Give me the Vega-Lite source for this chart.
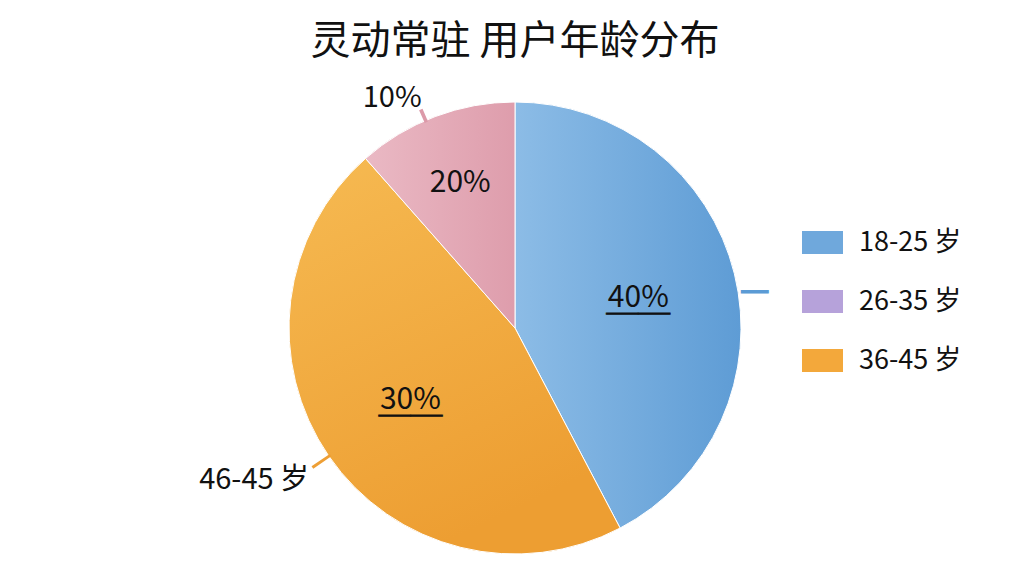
{
  "$schema": "https://vega.github.io/schema/vega-lite/v6.json",
  "description": "灵动常驻 用户年龄分布 pie with callouts",
  "autosize": {"type": "none"},
  "width": 1018,
  "height": 496,
  "padding": {"left": 6, "top": 80, "right": 0, "bottom": 0},
  "background": "white",
  "title": {
    "text": "灵动常驻 用户年龄分布",
    "font": "Noto Sans CJK SC",
    "fontSize": 40,
    "fontWeight": "normal",
    "color": "#111111",
    "anchor": "middle",
    "frame": "group",
    "offset": 18
  },
  "config": {
    "view": {"stroke": null},
    "text": {"font": "Noto Sans CJK SC", "color": "#111111"}
  },
  "datasets": {
    "slices": [
      {"idx": 1, "group": "18-25 岁", "share": 42.3, "label": "40%"},
      {"idx": 2, "group": "\u200436-45 岁", "share": 46.2, "label": "30%"},
      {"idx": 3, "group": "46岁以上", "share": 11.5, "label": "20%"}
    ],
    "callouts": [
      {"group": "18-25 岁", "tick": 22.8, "textAt": 22.8, "text": ""},
      {"group": "36-45 岁", "tick": 65.3, "textAt": 66.6, "text": "46-45 岁"},
      {"group": "46岁以上", "tick": 93.4, "textAt": 92.2, "text": "10%"}
    ]
  },
  "layer": [
    {
      "data": {"name": "slices"},
      "mark": {"type": "arc", "outerRadius": 226, "stroke": "#ffffff", "strokeWidth": 1},
      "encoding": {
        "theta": {"field": "share", "type": "quantitative", "stack": true},
        "order": {"field": "idx", "type": "ordinal"},
        "color": {
          "field": "group",
          "type": "nominal",
          "scale": {
            "domain": ["18-25 岁", "\u200426-35 岁", "\u200436-45 岁", "46岁以上"],
            "range": ["#6fa8dc", "#b6a2da", "#f3a83b", "#e4abb7"]
          },
          "legend": {
            "values": ["18-25 岁", "\u200426-35 岁", "\u200436-45 岁"],
            "title": null,
            "orient": "none",
            "legendX": 796,
            "legendY": 142,
            "direction": "vertical",
            "symbolType": "M-1,-0.56H1V0.56H-1Z",
            "symbolSize": 1681,
            "symbolStrokeWidth": 0,
            "symbolOpacity": 1,
            "labelFont": "Noto Sans CJK SC",
            "labelFontSize": 27,
            "labelColor": "#111111",
            "labelOffset": 16,
            "rowPadding": 25
          }
        }
      }
    },
    {
      "data": {"name": "slices"},
      "mark": {"type": "arc", "outerRadius": 226, "stroke": "#ffffff", "strokeWidth": 1},
      "encoding": {
        "theta": {"field": "share", "type": "quantitative", "stack": true},
        "order": {"field": "idx", "type": "ordinal"},
        "fill": {
          "condition": [
            {
              "test": "datum.idx == 1",
              "value": {"gradient": "linear", "x1": 0, "y1": 0, "x2": 1, "y2": 0,
                "stops": [{"offset": 0, "color": "#8cbce6"}, {"offset": 1, "color": "#5e9cd5"}]}
            },
            {
              "test": "datum.idx == 2",
              "value": {"gradient": "linear", "x1": 0, "y1": 0, "x2": 0.4, "y2": 1,
                "stops": [{"offset": 0, "color": "#f6ba52"}, {"offset": 1, "color": "#ed9e32"}]}
            }
          ],
          "value": {"gradient": "linear", "x1": 0, "y1": 0, "x2": 1, "y2": 0,
            "stops": [{"offset": 0, "color": "#eab9c4"}, {"offset": 1, "color": "#de9dac"}]}
        }
      }
    },
    {
      "data": {"name": "slices"},
      "mark": {"type": "text", "radius": 127, "fontSize": 30},
      "encoding": {
        "theta": {"field": "share", "type": "quantitative", "stack": true},
        "order": {"field": "idx", "type": "ordinal"},
        "text": {"condition": {"test": "datum.idx == 3", "value": ""}, "field": "label"}
      }
    },
    {
      "data": {"name": "slices"},
      "mark": {"type": "text", "radius": 127, "fontSize": 32, "dy": 18, "stroke": "#111111", "strokeWidth": 0.8},
      "encoding": {
        "theta": {"field": "share", "type": "quantitative", "stack": true},
        "order": {"field": "idx", "type": "ordinal"},
        "text": {"condition": {"test": "datum.idx == 3", "value": ""}, "value": "──"}
      }
    },
    {
      "data": {"name": "slices"},
      "mark": {"type": "text", "radius": 155, "fontSize": 30},
      "encoding": {
        "theta": {"field": "share", "type": "quantitative", "stack": true},
        "order": {"field": "idx", "type": "ordinal"},
        "text": {"condition": {"test": "datum.idx != 3", "value": ""}, "field": "label"}
      }
    },
    {
      "data": {"name": "callouts"},
      "transform": [{"filter": "datum.group == '18-25 岁'"}],
      "mark": {"type": "text", "radius": 242, "fontSize": 28, "color": "#5b9bd5"},
      "encoding": {
        "theta": {"field": "tick", "type": "quantitative"},
        "text": {"value": "━"}
      }
    },
    {
      "data": {"name": "callouts"},
      "transform": [
        {"filter": "datum.group == '36-45 岁'"},
        {"calculate": "datum.tick + 0.2", "as": "tickEnd"}
      ],
      "mark": {"type": "arc", "innerRadius": 224, "outerRadius": 246},
      "encoding": {
        "theta": {"field": "tick", "type": "quantitative"},
        "theta2": {"field": "tickEnd"},
        "fill": {"value": "#ee9f35"}
      }
    },
    {
      "data": {"name": "callouts"},
      "transform": [
        {"filter": "datum.group == '46岁以上'"},
        {"calculate": "datum.tick + 0.25", "as": "tickEnd"}
      ],
      "mark": {"type": "arc", "innerRadius": 224, "outerRadius": 238},
      "encoding": {
        "theta": {"field": "tick", "type": "quantitative"},
        "theta2": {"field": "tickEnd"},
        "fill": {"value": "#dc9aa9"}
      }
    },
    {
      "data": {"name": "callouts"},
      "transform": [{"filter": "datum.group == '46岁以上'"}],
      "mark": {"type": "text", "radius": 261, "fontSize": 29},
      "encoding": {
        "theta": {"field": "textAt", "type": "quantitative"},
        "text": {"field": "text"}
      }
    },
    {
      "data": {"name": "callouts"},
      "transform": [{"filter": "datum.group == '36-45 岁'"}],
      "mark": {"type": "text", "radius": 302, "fontSize": 29},
      "encoding": {
        "theta": {"field": "textAt", "type": "quantitative"},
        "text": {"field": "text"}
      }
    }
  ]
}
